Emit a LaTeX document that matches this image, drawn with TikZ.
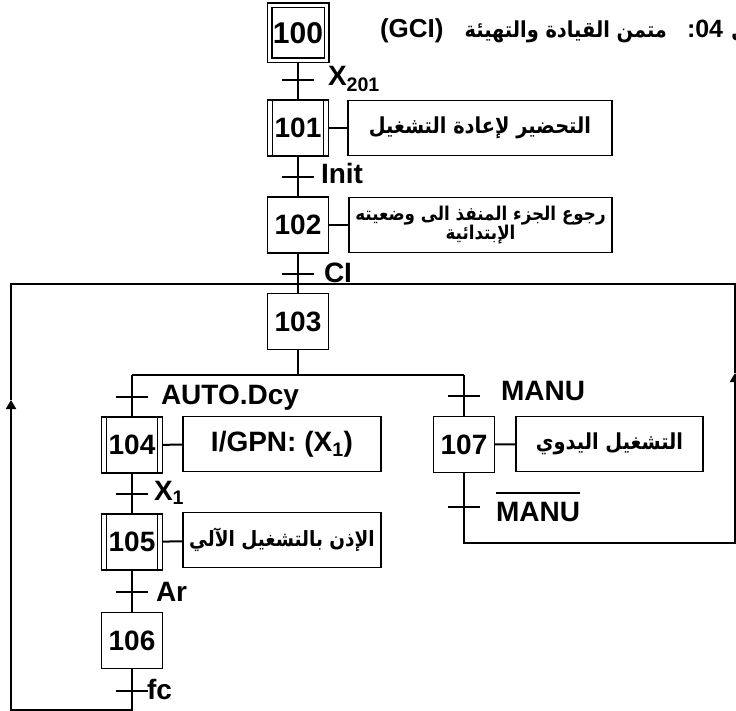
\documentclass[tikz,border=0pt]{standalone}
\usepackage{fontspec}
\setmainfont{Liberation Sans}
\newfontfamily\arfont[Script=Arabic, FakeStretch=0.88]{DejaVu Sans}
\usetikzlibrary{arrows.meta}
\TeXXeTstate=1
\newcommand{\fs}[1]{\fontsize{#1}{#1}\selectfont}
\newcommand{\overl}[1]{\setbox0\hbox{#1}\rlap{\rule[\dimexpr\ht0+8pt\relax]{\wd0}{1.6pt}}\box0}
\begin{document}
\begin{tikzpicture}[x=1pt,y=-1pt,
  every node/.style={inner sep=0pt, outer sep=0pt},
  ln/.style={line width=2pt},
  stepbox/.style={draw, line width=1.8pt, minimum width=61pt, minimum height=56pt, font=\bfseries\fs{28}},
  initstep/.style={stepbox, double, double distance=3.2pt, line width=1.4pt, minimum width=57pt, minimum height=55pt, font=\bfseries\fs{30}},
  macrostep/.style={stepbox, path picture={
     \draw[line width=1.3pt] ([xshift=5pt]path picture bounding box.north west) -- ([xshift=5pt]path picture bounding box.south west);
     \draw[line width=1.3pt] ([xshift=-5pt]path picture bounding box.north east) -- ([xshift=-5pt]path picture bounding box.south east);}},
  actbox/.style={draw, line width=1.8pt, minimum height=55pt, font=\bfseries\fs{28}},
  artext/.style={font=\arfont\bfseries\fs{22}},
  tbar/.style={fill=black, minimum width=32pt, minimum height=2pt},
  lab/.style={anchor=base west, font=\bfseries\fs{28}},
  tip/.style={-{Triangle[width=10pt,length=9pt]}}
]
\clip (0,0) rectangle (736,711);

% title
\node[anchor=base west, font=\bfseries\fs{26}] (tg) at (380,38) {(GCI)};
\node[anchor=base east, artext] (ta) at (667,38) {\beginR متمن القيادة والتهيئة\endR};
\node[anchor=base west, font=\bfseries\fs{25}] (tn) at (687,38) {:04};
\node[anchor=base west, artext] (tl1) at (731,38) {\beginR ل\endR};

% steps
\node[initstep] (s100) at (298,33) {100};
\node[macrostep] (s101) at (298,128) {101};
\node[stepbox] (s102) at (298,225) {102};
\node[stepbox] (s103) at (298,321.5) {103};
\node[macrostep] (s104) at (132,445) {104};
\node[macrostep] (s105) at (132,542) {105};
\node[stepbox] (s106) at (132,640.5) {106};
\node[stepbox] (s107) at (464,444.5) {107};

% actions
\node[actbox, minimum width=264pt, artext] (a101) at (480,128) {\beginR التحضير لإعادة التشغيل\endR};
\node[actbox, minimum width=263pt, align=center, font=\arfont\bfseries\fs{19}] (a102) at (480.5,225) {\beginR رجوع الجزء المنفذ الى وضعيته\endR\\[-1pt]\beginR الإبتدائية\endR};
\node[actbox, minimum width=198pt] (a104) at (282,444) {I/GPN: (X\textsubscript{1})};
\node[actbox, minimum width=198pt, font=\arfont\bfseries\fs{21}] (a105) at (282,540) {\beginR الإذن بالتشغيل الآلي\endR};
\node[actbox, minimum width=187pt, artext] (a107) at (609.5,444) {\beginR التشغيل اليدوي\endR};

% transitions
\node[tbar] (t1) at (298,80) {};
\node[tbar] (t2) at (298,177) {};
\node[tbar] (t3) at (298,274) {};
\node[tbar] (tA) at (132,397) {};
\node[tbar] (tM) at (464,396) {};
\node[tbar] (tX) at (132,494) {};
\node[tbar] (tMb) at (464,507) {};
\node[tbar] (tAr) at (132,592) {};
\node[tbar] (tfc) at (132,691) {};

% transition labels
\node[lab] (l1) at (328,86) {X\textsubscript{201}};
\node[lab] (l2) at (321,184) {Init};
\node[lab] (l3) at (324,283) {CI};
\node[lab] (lA) at (161,404) {AUTO.Dcy};
\node[lab] (lM) at (501,400) {MANU};
\node[lab] (lX) at (154,500) {X\textsubscript{1}};
\node[lab] (lMb) at (496,521) {\overl{MANU}};
\node[lab] (lAr) at (156,601) {Ar};
\node[lab] (lfc) at (147,699) {fc};

% coordinates
\coordinate (dm) at (298,375);
\coordinate (dl) at (132,375);
\coordinate (dr) at (464,375);
\coordinate (bl) at (132,710);
\coordinate (bll) at (11,710);
\coordinate (al) at (11,400);
\coordinate (tl) at (11,284);
\coordinate (tr) at (735,284);
\coordinate (ar) at (735,373);
\coordinate (br) at (735,543);
\coordinate (br2) at (464,543);

% connectors
\draw[ln] ([yshift=-2.3pt]s100.south) -- (t1) -- (s101);
\draw[ln] (s101) -- (t2) -- (s102);
\draw[ln] (s102) -- (t3) -- (s103);
\draw[ln] (s103) -- (dm);
\draw[ln] (dl) -- (dr);
\draw[ln] (dl) -- (tA) -- (s104);
\draw[ln] (s104) -- (tX) -- (s105);
\draw[ln] (s105) -- (tAr) -- (s106);
\draw[ln, tip] (s106) -- (tfc) -- (bl) -- (bll) -- (al);
\draw[ln] (al) -- (tl) -- (tr) -- (ar);
\draw[ln] (dr) -- (tM) -- (s107);
\draw[ln, tip] (s107) -- (tMb) -- (br2) -- (br) -- (ar);

% action links
\draw[ln] (s101) -- (a101);
\draw[ln] (s102) -- (a102);
\draw[ln] (s104) -- (a104);
\draw[ln] (s105) -- (a105);
\draw[ln] (s107) -- (a107);
\end{tikzpicture}
\end{document}
